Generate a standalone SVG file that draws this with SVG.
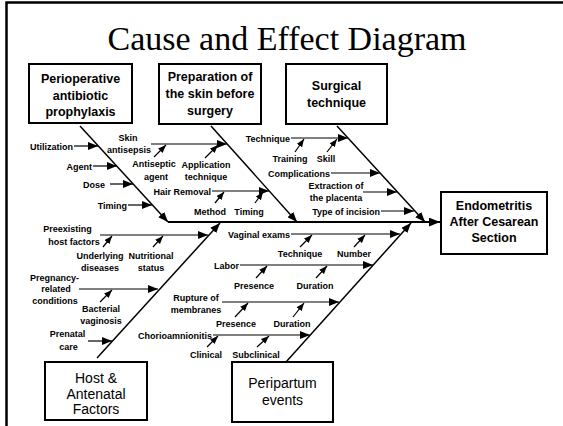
<svg xmlns="http://www.w3.org/2000/svg" width="563" height="426" viewBox="0 0 563 426">
  <style>
    .frame { fill: none; stroke: #000; stroke-width: 2.5; }
    .box { fill: #fff; stroke: #000; stroke-width: 2; }
    .title { font-family: "Liberation Serif", "Times New Roman", serif; font-size: 34px; fill: #000; }
    .head { font-family: "Liberation Sans", Arial, sans-serif; font-size: 12.5px; font-weight: bold; fill: #000; text-anchor: middle; }
    .head2 { font-family: "Liberation Sans", Arial, sans-serif; font-size: 14px; fill: #000; text-anchor: middle; }
    .lbl { font-family: "Liberation Sans", Arial, sans-serif; font-size: 9px; font-weight: bold; fill: #000; }
    .r { text-anchor: end; }
    .c { text-anchor: middle; }
    .bone { fill: none; stroke: #000; stroke-width: 1.5; marker-end: url(#ah); }
    .twig { fill: none; stroke: #000; stroke-width: 1.2; marker-end: url(#ah); }
    .tick { fill: none; stroke: #000; stroke-width: 1.2; marker-end: url(#ahs); }
    .spine { fill: none; stroke: #000; stroke-width: 1.8; marker-end: url(#ahb); }
  </style>
  <defs>
    <marker id="ah" viewBox="0 0 10 8" refX="10" refY="4" markerWidth="10" markerHeight="8" orient="auto" markerUnits="userSpaceOnUse">
      <path d="M0,0 L10,4 L0,8 Z" fill="#000"/>
    </marker>
    <marker id="ahs" viewBox="0 0 10 8" refX="10" refY="4" markerWidth="8" markerHeight="7" orient="auto" markerUnits="userSpaceOnUse">
      <path d="M0,0 L10,4 L0,8 Z" fill="#000"/>
    </marker>
    <marker id="ahb" viewBox="0 0 10 8" refX="10" refY="4" markerWidth="11" markerHeight="9" orient="auto" markerUnits="userSpaceOnUse">
      <path d="M0,0 L10,4 L0,8 Z" fill="#000"/>
    </marker>
  </defs>

  <rect width="563" height="426" fill="#fff"/>
  <!-- slide frame (top and left edges) -->
  <path class="frame" d="M6.5,426 L6.5,2.5 L563,2.5"/>

  <text class="title" x="287" y="50" text-anchor="middle">Cause and Effect Diagram</text>

  <!-- category boxes -->
  <g id="perioperative">
    <rect class="box" x="29" y="64" width="103" height="59"/>
    <text class="head" x="80.5" y="83">Perioperative</text>
    <text class="head" x="80.5" y="100">antibiotic</text>
    <text class="head" x="80.5" y="116">prophylaxis</text>
  </g>
  <g id="skin-prep">
    <rect class="box" x="159" y="64" width="102" height="60"/>
    <text class="head" x="210" y="81">Preparation of</text>
    <text class="head" x="210" y="98">the skin before</text>
    <text class="head" x="210" y="115">surgery</text>
  </g>
  <g id="surgical">
    <rect class="box" x="286" y="64" width="101" height="60"/>
    <text class="head" x="336.5" y="90">Surgical</text>
    <text class="head" x="336.5" y="107">technique</text>
  </g>
  <g id="effect">
    <rect class="box" x="441" y="192" width="106" height="62"/>
    <text class="head" x="494" y="210">Endometritis</text>
    <text class="head" x="494" y="226">After Cesarean</text>
    <text class="head" x="494" y="242">Section</text>
  </g>
  <g id="host">
    <rect class="box" x="45" y="362" width="102" height="58"/>
    <text class="head2" x="96" y="383">Host &amp;</text>
    <text class="head2" x="96" y="398.5">Antenatal</text>
    <text class="head2" x="96" y="414">Factors</text>
  </g>
  <g id="peripartum">
    <rect class="box" x="232" y="362" width="101" height="60"/>
    <text class="head2" x="282.5" y="388">Peripartum</text>
    <text class="head2" x="282.5" y="405">events</text>
  </g>

  <!-- connectors: spine, bones, branches -->
  <g id="connectors">
    <path class="spine" d="M168,222 L440,222"/>
    <path class="bone" d="M80,126 L168,222"/>
    <path class="bone" d="M211,126 L297,222"/>
    <path class="bone" d="M337,126 L425,222"/>
    <path class="bone" d="M97,358 L220,223"/>
    <path class="bone" d="M286,362 L411,223"/>

    <!-- perioperative antibiotic prophylaxis -->
    <path class="twig" d="M74,146 L98,146"/>
    <path class="twig" d="M93,166 L117,166"/>
    <path class="twig" d="M110,184 L133,184"/>
    <path class="twig" d="M128,205 L152,205"/>

    <!-- skin preparation -->
    <path class="twig" d="M151,144 L227,144"/>
    <path class="tick" d="M154,157 L166,145"/>
    <path class="tick" d="M205,158 L218,145"/>
    <path class="twig" d="M212,191 L269,191"/>
    <path class="tick" d="M215,203 L224,192"/>
    <path class="tick" d="M255,203 L263,192"/>

    <!-- surgical technique -->
    <path class="twig" d="M291,138 L348,138"/>
    <path class="tick" d="M295,152 L304,139"/>
    <path class="tick" d="M327,152 L337,139"/>
    <path class="twig" d="M331,173 L380,173"/>
    <path class="twig" d="M363,192 L397,192"/>
    <path class="twig" d="M381,211 L414,211"/>

    <!-- host and antenatal factors -->
    <path class="twig" d="M100,235 L208,235"/>
    <path class="tick" d="M103,247 L112,236"/>
    <path class="tick" d="M153,247 L163,236"/>
    <path class="twig" d="M79,289 L158,289"/>
    <path class="tick" d="M100,302 L112,290"/>
    <path class="twig" d="M88,341 L112,341"/>

    <!-- peripartum events -->
    <path class="twig" d="M291,234 L400,234"/>
    <path class="tick" d="M300,247 L312,235"/>
    <path class="tick" d="M354,247 L365,235"/>
    <path class="twig" d="M240,265 L373,265"/>
    <path class="tick" d="M256,278 L267,266"/>
    <path class="tick" d="M316,278 L327,266"/>
    <path class="twig" d="M222,302 L339,302"/>
    <path class="tick" d="M235,317 L248,303"/>
    <path class="tick" d="M293,317 L304,303"/>
    <path class="twig" d="M213,335 L310,335"/>
    <path class="tick" d="M207,347 L218,336"/>
    <path class="tick" d="M257,347 L269,336"/>
  </g>

  <!-- branch labels -->
  <g id="labels">
    <text class="lbl r" x="73" y="149.5">Utilization</text>
    <text class="lbl r" x="92" y="169.5">Agent</text>
    <text class="lbl r" x="105" y="187.5">Dose</text>
    <text class="lbl r" x="127" y="208.5">Timing</text>

    <text class="lbl c" x="128" y="141">Skin</text>
    <text class="lbl c" x="129" y="153">antisepsis</text>
    <text class="lbl c" x="154" y="167">Antiseptic</text>
    <text class="lbl c" x="156" y="180">agent</text>
    <text class="lbl c" x="206" y="168">Application</text>
    <text class="lbl c" x="206" y="180">technique</text>
    <text class="lbl r" x="211" y="194.5">Hair Removal</text>
    <text class="lbl c" x="210" y="215">Method</text>
    <text class="lbl c" x="249" y="215">Timing</text>

    <text class="lbl r" x="290" y="141.5">Technique</text>
    <text class="lbl c" x="290" y="161.5">Training</text>
    <text class="lbl c" x="326" y="161.5">Skill</text>
    <text class="lbl r" x="330" y="176.5">Complications</text>
    <text class="lbl c" x="336" y="189">Extraction of</text>
    <text class="lbl c" x="336" y="200.5">the placenta</text>
    <text class="lbl r" x="380" y="214.5">Type of incision</text>

    <text class="lbl c" x="67.5" y="232">Preexisting</text>
    <text class="lbl c" x="74" y="245">host factors</text>
    <text class="lbl c" x="100" y="258.5">Underlying</text>
    <text class="lbl c" x="100" y="270.5">diseases</text>
    <text class="lbl c" x="151" y="258.5">Nutritional</text>
    <text class="lbl c" x="151" y="270.5">status</text>
    <text class="lbl c" x="54.5" y="280.5">Pregnancy-</text>
    <text class="lbl c" x="56" y="291.5">related</text>
    <text class="lbl c" x="55" y="303.5">conditions</text>
    <text class="lbl c" x="101" y="311.5">Bacterial</text>
    <text class="lbl c" x="101" y="323.5">vaginosis</text>
    <text class="lbl c" x="67.5" y="336.5">Prenatal</text>
    <text class="lbl c" x="68.5" y="349.5">care</text>

    <text class="lbl r" x="290" y="237.5">Vaginal exams</text>
    <text class="lbl c" x="300" y="256.5">Technique</text>
    <text class="lbl c" x="354" y="256.5">Number</text>
    <text class="lbl r" x="239" y="268.5">Labor</text>
    <text class="lbl c" x="254" y="288.5">Presence</text>
    <text class="lbl c" x="315" y="288.5">Duration</text>
    <text class="lbl c" x="196" y="300.5">Rupture of</text>
    <text class="lbl c" x="196" y="312.5">membranes</text>
    <text class="lbl c" x="236" y="326.5">Presence</text>
    <text class="lbl c" x="292" y="326.5">Duration</text>
    <text class="lbl r" x="212" y="338.5">Chorioamnionitis</text>
    <text class="lbl c" x="206" y="357.5">Clinical</text>
    <text class="lbl c" x="256" y="357.5">Subclinical</text>
  </g>
</svg>
